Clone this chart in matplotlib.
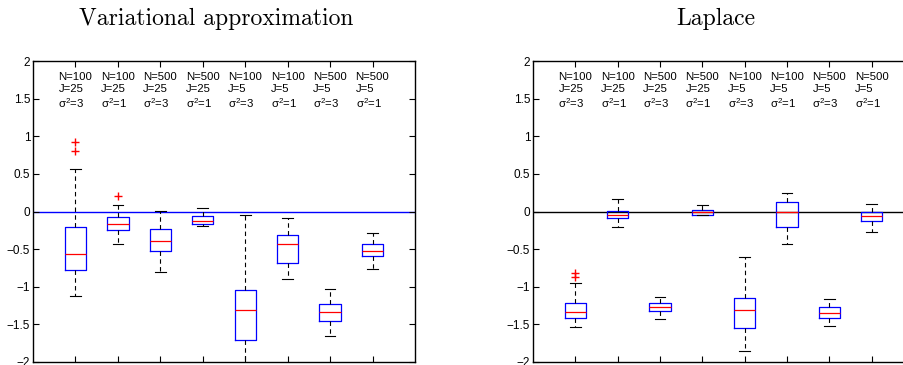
import matplotlib
matplotlib.use("Agg")
import matplotlib.pyplot as plt

plt.rcParams['font.family'] = ['Liberation Sans', 'DejaVu Sans']
plt.rcParams['mathtext.fontset'] = 'custom'
plt.rcParams['mathtext.rm'] = 'Liberation Sans'
plt.rcParams['mathtext.it'] = 'Liberation Sans'

# settings shown above each box
labels = ["N=100\nJ=25\n$\\mathregular{\\sigma^2}$=3",
          "N=100\nJ=25\n$\\mathregular{\\sigma^2}$=1",
          "N=500\nJ=25\n$\\mathregular{\\sigma^2}$=3",
          "N=500\nJ=25\n$\\mathregular{\\sigma^2}$=1",
          "N=100\nJ=5\n$\\mathregular{\\sigma^2}$=3",
          "N=100\nJ=5\n$\\mathregular{\\sigma^2}$=1",
          "N=500\nJ=5\n$\\mathregular{\\sigma^2}$=3",
          "N=500\nJ=5\n$\\mathregular{\\sigma^2}$=1"]

# variational approximation: whisker low, q1, median, q3, whisker high, outliers
va_lo = [-1.12, -0.43, -0.81, -0.19, -2.3, -0.90, -1.66, -0.76]
va_q1 = [-0.78, -0.24, -0.52, -0.16, -1.71, -0.69, -1.45, -0.59]
va_med = [-0.56, -0.16, -0.39, -0.12, -1.31, -0.43, -1.33, -0.52]
va_q3 = [-0.21, -0.07, -0.23, -0.06, -1.04, -0.31, -1.23, -0.43]
va_hi = [0.56, 0.09, 0.01, 0.05, -0.05, -0.08, -1.03, -0.29]
va_out = [[0.92, 0.80], [0.20], [], [], [], [], [], []]

# laplace
lp_lo = [-1.54, -0.20, -1.43, -0.05, -1.85, -0.43, -1.52, -0.27]
lp_q1 = [-1.42, -0.08, -1.32, -0.04, -1.55, -0.20, -1.41, -0.13]
lp_med = [-1.33, -0.04, -1.27, 0.0, -1.31, 0.0, -1.35, -0.06]
lp_q3 = [-1.22, 0.01, -1.22, 0.02, -1.15, 0.13, -1.27, 0.0]
lp_hi = [-0.95, 0.16, -1.14, 0.08, -0.61, 0.24, -1.16, 0.10]
lp_out = [[-0.82, -0.87], [], [], [], [], [], [], []]

positions = list(range(1, 9))


def make_stats(lo, q1, med, q3, hi, out):
    stats = []
    for i in range(len(med)):
        stats.append(dict(whislo=lo[i], q1=q1[i], med=med[i], q3=q3[i],
                          whishi=hi[i], fliers=out[i]))
    return stats


fig = plt.figure(figsize=(9.04, 3.65), dpi=100)
ax1 = fig.add_axes([33 / 904, 3 / 365, 382 / 904, 301 / 365])
ax2 = fig.add_axes([533 / 904, 3 / 365, 381 / 904, 301 / 365])

panels = [(ax1, make_stats(va_lo, va_q1, va_med, va_q3, va_hi, va_out),
           'Variational approximation', 'blue'),
          (ax2, make_stats(lp_lo, lp_q1, lp_med, lp_q3, lp_hi, lp_out),
           'Laplace', 'black')]

for ax, stats, title, zc in panels:
    ax.axhline(0, color=zc, lw=1, zorder=1)
    ax.bxp(stats, positions=positions, widths=0.5,
           boxprops=dict(color='blue', lw=0.9),
           medianprops=dict(color='red', lw=0.9),
           whiskerprops=dict(color='black', lw=0.8, linestyle=(0, (4, 3))),
           capprops=dict(color='black', lw=0.8),
           flierprops=dict(marker='+', markeredgecolor='red', markersize=6,
                           linestyle='none'),
           manage_ticks=False)
    for p, lab in zip(positions, labels):
        ax.text(p - 0.4, 1.86, lab, fontsize=8.2, ha='left', va='top',
                linespacing=1.25)
    ax.set_xlim(0, 9)
    ax.set_ylim(-2, 2)
    ax.set_xticks(positions)
    ax.set_xticklabels([])
    ax.set_yticks([-2, -1.5, -1, -0.5, 0, 0.5, 1, 1.5, 2])
    ax.set_yticklabels(['\u22122', '\u22121.5', '\u22121', '\u22120.5', '0',
                        '0.5', '1', '1.5', '2'])
    ax.tick_params(direction='in', top=True, right=True, length=4,
                   labelsize=8.5, pad=2)
    for s in ax.spines.values():
        s.set_linewidth(1)
    ax.set_title(title, fontfamily='cmr10', fontsize=17, x=0.48, pad=26)

plt.savefig('out.png', dpi=100)
